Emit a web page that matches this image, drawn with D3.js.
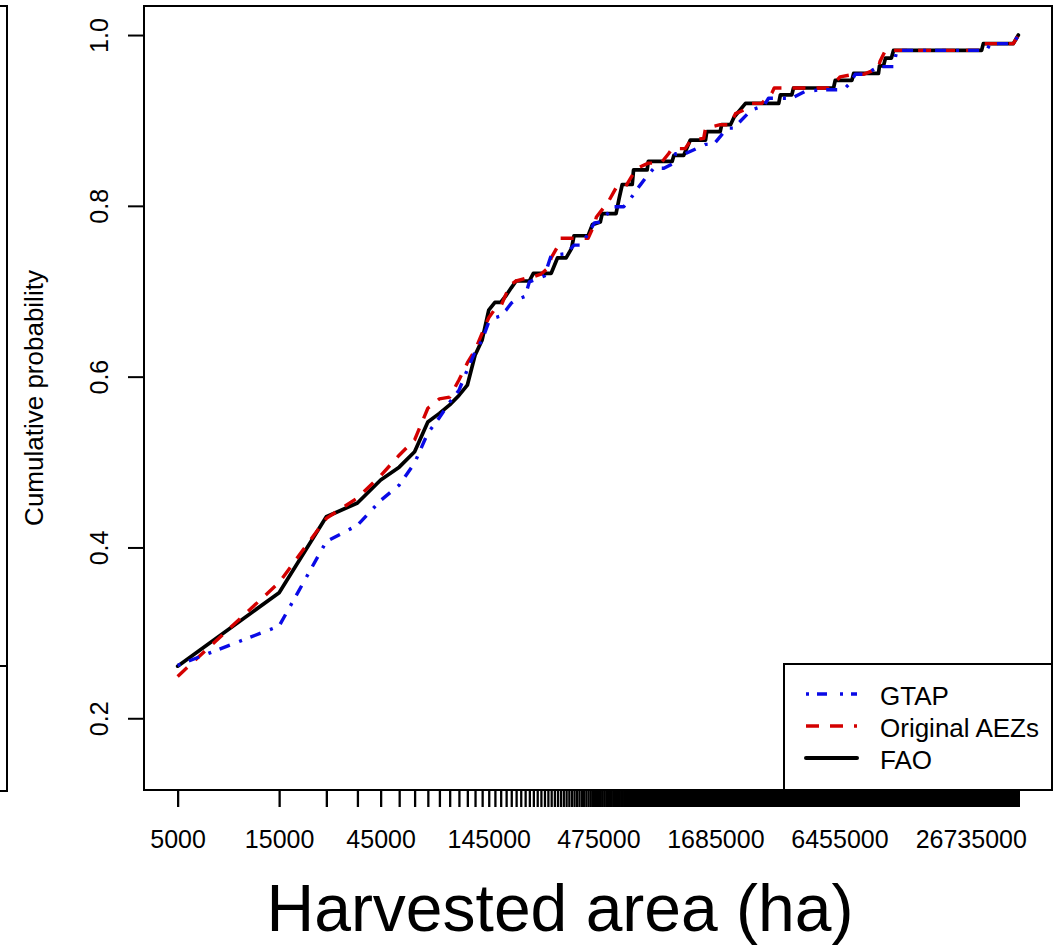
<!DOCTYPE html>
<html>
<head>
<meta charset="utf-8">
<script src="https://cdn.jsdelivr.net/npm/d3@7"></script>
<style>
  html, body { margin: 0; padding: 0; background: #fff; }
  svg { display: block; font-family: "Liberation Sans", Arial, Helvetica, sans-serif; }
</style>
</head>
<body>
<svg id="chart" width="1053" height="948"></svg>
<script>
// ---------------- data ----------------
const seriesNames = ["GTAP", "Original AEZs", "FAO"];

// [harvested area (ha), cumulative probability]
const gtapData = [
[5000,0.262],[15000,0.308],[25000,0.407],[35000,0.426],[45000,0.455],[55000,0.473],[65000,0.499],[75000,0.534],[85000,0.552],[95000,0.570],[105000,0.584],[115000,0.608],[125000,0.629],[135000,0.643],[145000,0.664],[155000,0.669],[165000,0.671],[175000,0.678],[185000,0.686],[195000,0.690],[205000,0.692],[215000,0.694],[225000,0.711],[265000,0.718],[285000,0.742],[335000,0.744],[365000,0.754],[395000,0.754],[455000,0.780],[485000,0.781],[525000,0.791],[555000,0.799],[625000,0.799],[675000,0.809],[745000,0.824],[805000,0.835],[865000,0.844],[965000,0.844],[1075000,0.850],[1095000,0.861],[1215000,0.861],[1515000,0.872],[1655000,0.872],[1775000,0.881],[1905000,0.891],[2055000,0.891],[2415000,0.909],[2455000,0.912],[2845000,0.917],[2995000,0.926],[3855000,0.926],[4455000,0.934],[5335000,0.936],[6745000,0.936],[7255000,0.944],[7655000,0.954],[8525000,0.954],[9845000,0.963],[11585000,0.963],[12005000,0.982],[31745000,0.982],[33005000,0.990],[42385000,0.990],[44755000,1.0]
];

const aezData = [
[5000,0.249],[15000,0.359],[25000,0.434],[35000,0.458],[45000,0.484],[55000,0.508],[65000,0.526],[75000,0.563],[85000,0.574],[95000,0.576],[105000,0.596],[115000,0.616],[125000,0.631],[135000,0.651],[145000,0.669],[155000,0.679],[165000,0.682],[175000,0.697],[185000,0.708],[195000,0.712],[215000,0.715],[235000,0.717],[255000,0.720],[275000,0.727],[285000,0.739],[305000,0.752],[315000,0.762],[425000,0.762],[455000,0.778],[465000,0.787],[515000,0.801],[535000,0.807],[575000,0.821],[635000,0.822],[695000,0.838],[725000,0.844],[815000,0.850],[935000,0.850],[1015000,0.861],[1055000,0.867],[1215000,0.867],[1295000,0.877],[1485000,0.879],[1515000,0.891],[1775000,0.895],[1985000,0.895],[2095000,0.908],[2285000,0.912],[2505000,0.920],[2785000,0.920],[3105000,0.932],[3185000,0.938],[5735000,0.938],[6395000,0.949],[6495000,0.951],[7525000,0.954],[8375000,0.954],[9845000,0.961],[10005000,0.969],[10605000,0.982],[30065000,0.982],[30625000,0.990],[42385000,0.990],[44755000,1.0]
];

const faoData = [
[5000,0.261],[15000,0.347],[25000,0.436],[35000,0.452],[45000,0.479],[55000,0.494],[65000,0.512],[75000,0.547],[85000,0.557],[95000,0.567],[105000,0.578],[115000,0.590],[125000,0.625],[135000,0.643],[145000,0.678],[155000,0.687],[165000,0.687],[175000,0.695],[185000,0.704],[195000,0.712],[225000,0.712],[235000,0.721],[285000,0.721],[305000,0.739],[335000,0.739],[355000,0.750],[365000,0.765],[425000,0.765],[445000,0.778],[485000,0.781],[495000,0.791],[575000,0.791],[595000,0.809],[615000,0.825],[685000,0.825],[695000,0.842],[805000,0.842],[815000,0.852],[1055000,0.852],[1075000,0.859],[1195000,0.859],[1285000,0.877],[1515000,0.877],[1535000,0.887],[1775000,0.887],[1805000,0.895],[1985000,0.895],[2065000,0.904],[2335000,0.920],[3345000,0.920],[3405000,0.930],[3855000,0.930],[3925000,0.938],[6055000,0.938],[6165000,0.947],[7385000,0.947],[7525000,0.955],[9845000,0.955],[9955000,0.964],[10395000,0.964],[10625000,0.973],[11325000,0.973],[11585000,0.982],[30065000,0.982],[30625000,0.990],[42385000,0.990],[44755000,1.0]
];

// axis definitions
const xTickStart = 5000;
const xTickStep = 10000;
const xTickLabels = [5000, 15000, 45000, 145000, 475000, 1685000, 6455000, 26735000];
const yTicks = [0.2, 0.4, 0.6, 0.8, 1.0];
const yLimits = [0.15, 1.0];
const xTitle = "Harvested area (ha)";
const yTitle = "Cumulative probability";

// ---------------- layout ----------------
const svg = d3.select("#chart");
const plot = { left: 144, top: 6, right: 1052, bottom: 790 };

const allSeries = [gtapData, aezData, faoData];
const xMinData = d3.min(allSeries, s => d3.min(s, d => d[0]));
const xMaxData = d3.max(allSeries, s => d3.max(s, d => d[0]));
const lmin = Math.log10(xMinData), lmax = Math.log10(xMaxData);
const lpad = 0.04 * (lmax - lmin);
const x = d3.scaleLog()
  .domain([Math.pow(10, lmin - lpad), Math.pow(10, lmax + lpad)])
  .range([plot.left, plot.right]);

const yr = yLimits[1] - yLimits[0];
const y = d3.scaleLinear()
  .domain([yLimits[0] - 0.04 * yr, yLimits[1] + 0.04 * yr])
  .range([plot.bottom, plot.top]);

// left neighbouring panel fragment (cropped)
svg.append("path")
  .attr("d", `M0,6 H7 V791 H0 M0,666 H7`)
  .attr("fill", "none").attr("stroke", "#000").attr("stroke-width", 2);

// clip
svg.append("clipPath").attr("id", "clip")
  .append("rect")
  .attr("x", plot.left).attr("y", plot.top)
  .attr("width", plot.right - plot.left).attr("height", plot.bottom - plot.top);

// ---------------- axes ----------------
const xTicks = d3.range(xTickStart, xMaxData + 1, xTickStep);
const labelSet = new Set(xTickLabels);
const xAxis = d3.axisBottom(x)
  .tickValues(xTicks)
  .tickSize(17)
  .tickSizeOuter(0)
  .tickPadding(23)
  .tickFormat(d => labelSet.has(d) ? String(d) : "");

const gx = svg.append("g")
  .attr("transform", `translate(0,${plot.bottom})`)
  .call(xAxis);
gx.select(".domain").remove();
gx.selectAll(".tick line").attr("stroke", "#000").attr("stroke-width", 2.3);
gx.selectAll(".tick text")
  .attr("fill", "#000")
  .style("font-size", "25px")
  .style("font-family", "'Liberation Sans', Arial, sans-serif");
gx.selectAll(".tick").filter(d => !labelSet.has(d)).select("text").remove();

const yAxis = d3.axisLeft(y)
  .tickValues(yTicks)
  .tickSize(16)
  .tickSizeOuter(0)
  .tickFormat(d3.format(".1f"));
const gy = svg.append("g")
  .attr("transform", `translate(${plot.left},0)`)
  .call(yAxis);
gy.select(".domain").remove();
gy.selectAll(".tick line").attr("stroke", "#000").attr("stroke-width", 2);
gy.selectAll(".tick text")
  .attr("fill", "#000")
  .attr("x", null).attr("dy", null)
  .attr("text-anchor", "middle")
  .attr("transform", "translate(-36,0) rotate(-90)")
  .style("font-size", "25px")
  .style("font-family", "'Liberation Sans', Arial, sans-serif");

// ---------------- lines ----------------
const line = d3.line()
  .x(d => x(d[0]))
  .y(d => y(d[1]));

const gLines = svg.append("g").attr("clip-path", "url(#clip)");

const styles = {
  "FAO":           { color: "#000000", width: 3.7, dash: null,        cap: "round" },
  "Original AEZs": { color: "#D40000", width: 3.4, dash: "13,11",     cap: "butt" },
  "GTAP":          { color: "#0A0AE6", width: 3.4, dash: "3,9,11,10", cap: "butt" }
};

[["FAO", faoData], ["Original AEZs", aezData], ["GTAP", gtapData]].forEach(([name, data]) => {
  const s = styles[name];
  gLines.append("path")
    .datum(data)
    .attr("d", line)
    .attr("fill", "none")
    .attr("stroke", s.color)
    .attr("stroke-width", s.width)
    .attr("stroke-linejoin", "round")
    .attr("stroke-linecap", s.cap)
    .attr("stroke-dasharray", s.dash);
});

// ---------------- plot box ----------------
svg.append("rect")
  .attr("x", plot.left).attr("y", plot.top)
  .attr("width", plot.right - plot.left).attr("height", plot.bottom - plot.top)
  .attr("fill", "none").attr("stroke", "#000").attr("stroke-width", 2);

// ---------------- legend ----------------
const lg = svg.append("g");
lg.append("rect")
  .attr("x", 784).attr("y", 664)
  .attr("width", plot.right - 784).attr("height", plot.bottom - 664)
  .attr("fill", "#fff").attr("stroke", "#000").attr("stroke-width", 2);

const legendDash = { "GTAP": "3,8,10,13", "Original AEZs": "13,11", "FAO": null };
seriesNames.forEach((name, i) => {
  const s = styles[name];
  const cy = 694 + i * 32;
  lg.append("line")
    .attr("x1", 806).attr("x2", 857)
    .attr("y1", cy).attr("y2", cy)
    .attr("stroke", s.color)
    .attr("stroke-width", s.width + 0.3)
    .attr("stroke-linecap", s.cap)
    .attr("stroke-dasharray", legendDash[name]);
  lg.append("text")
    .attr("x", 880).attr("y", cy + 10.5)
    .attr("fill", "#000")
    .style("font-size", "26px")
    .text(name);
});

// ---------------- titles ----------------
svg.append("text")
  .attr("transform", `translate(43,398) rotate(-90)`)
  .attr("text-anchor", "middle")
  .attr("fill", "#000")
  .style("font-size", "26px")
  .text(yTitle);

svg.append("text")
  .attr("x", 560).attr("y", 931)
  .attr("text-anchor", "middle")
  .attr("fill", "#000")
  .style("font-size", "66px")
  .text(xTitle);
</script>
</body>
</html>
